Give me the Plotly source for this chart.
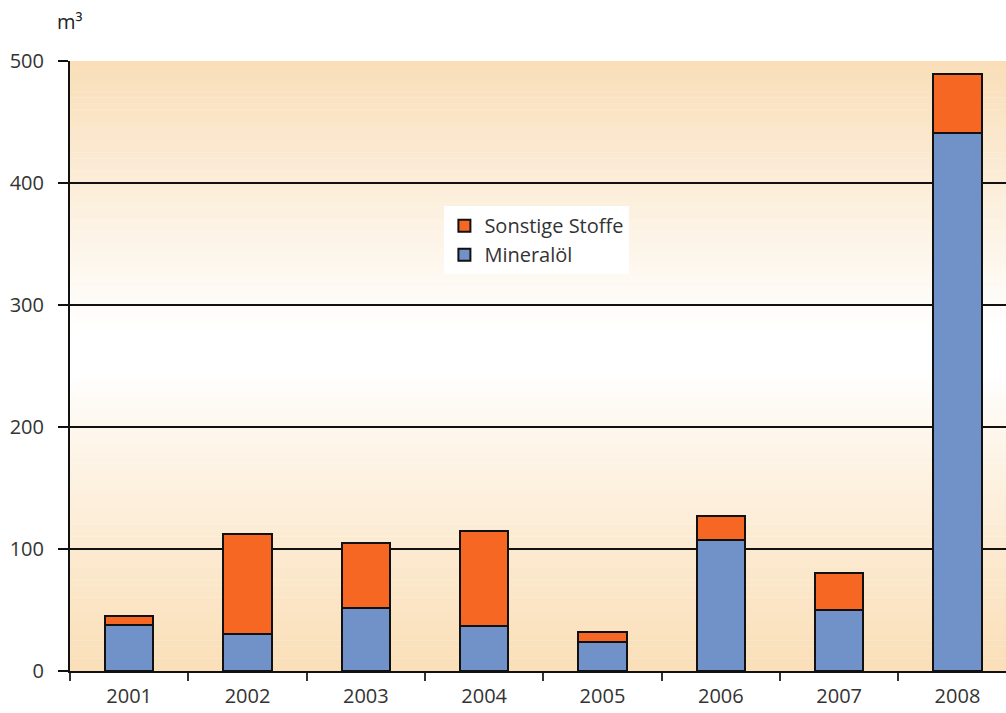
import plotly.graph_objects as go

years = ["2001", "2002", "2003", "2004", "2005", "2006", "2007", "2008"]
mineraloel = [38, 30, 52, 37, 24, 107, 50, 441]
sonstige = [7, 82, 53, 78, 8, 20, 30, 48]
y_ticks = [0, 100, 200, 300, 400, 500]

fig = go.Figure()
fig.add_trace(go.Bar(
    x=years, y=mineraloel, name="Mineralöl",
    marker=dict(color="#7191C9", line=dict(color="#111111", width=2)),
    width=0.41,
))
fig.add_trace(go.Bar(
    x=years, y=sonstige, name="Sonstige Stoffe",
    marker=dict(color="#F56722", line=dict(color="#111111", width=2)),
    width=0.41,
))

# vertical peach-white-peach gradient behind the plot
def mix(c1, c2, t):
    return "rgb(%d,%d,%d)" % tuple(round(a + (b - a) * t) for a, b in zip(c1, c2))

peach_top = (249, 222, 184)
peach_bot = (250, 223, 184)
white = (255, 255, 255)
shapes = []
step = 5
for lo in range(0, 500, step):
    mid = lo + step / 2
    if mid >= 280:
        t = (mid - 280) / 220
        col = mix(white, peach_top, t)
    elif mid >= 240:
        col = mix(white, white, 0)
    else:
        t = (240 - mid) / 240
        col = mix(white, peach_bot, t ** 0.8)
    shapes.append(dict(type="rect", xref="paper", yref="y", x0=0, x1=1,
                       y0=lo, y1=lo + step + 0.3, fillcolor=col,
                       line=dict(width=0), layer="below"))

fig.update_layout(
    width=1006, height=713,
    margin=dict(l=70, r=0, t=61, b=42),
    barmode="stack",
    paper_bgcolor="white",
    plot_bgcolor="white",
    shapes=shapes,
    font=dict(family="Open Sans", size=20, color="#333333"),
    showlegend=True,
    legend=dict(
        x=0.40, y=0.762, xanchor="left", yanchor="top",
        traceorder="reversed", bgcolor="white",
        font=dict(size=20, color="#333333"),
        itemwidth=30,
    ),
    annotations=[dict(
        text="m³", xref="paper", yref="paper", x=-0.016, y=1.0,
        yshift=24, xanchor="left", yanchor="bottom", showarrow=False,
        font=dict(size=20, color="#222222"),
    )],
)
fig.update_xaxes(
    type="category", range=[-0.5, 7.41],
    tickson="boundaries", ticks="outside", ticklen=8, tickwidth=2,
    tickcolor="#333333", showline=True, linecolor="#111111", linewidth=2,
    showgrid=False, ticklabelstandoff=6,
)
fig.update_yaxes(
    range=[0, 500], tickvals=y_ticks, ticks="outside", ticklen=10,
    tickwidth=2, tickcolor="#111111",
    showline=True, linecolor="#111111", linewidth=2,
    showgrid=True, gridcolor="#111111", gridwidth=2, zeroline=False,
    ticklabelstandoff=10,
)
fig.write_html("out.html")
